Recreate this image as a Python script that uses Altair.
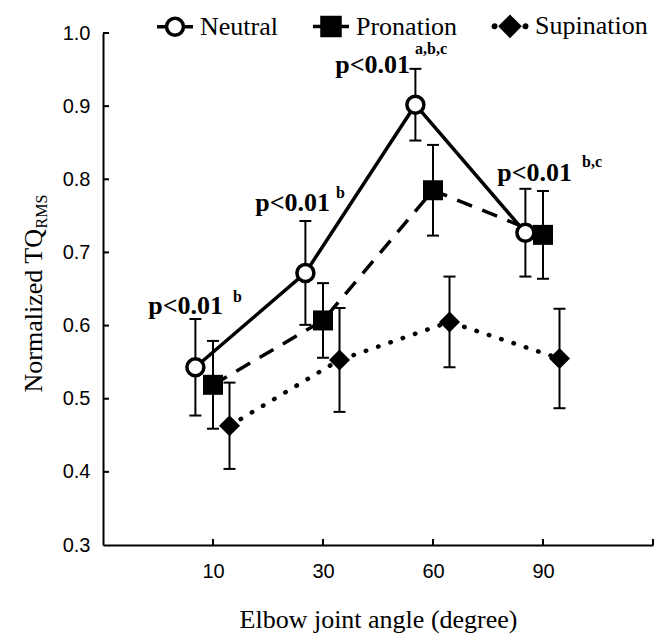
import altair as alt
import pandas as pd

# ---------------- data ----------------
ANGLES = ["10", "30", "60", "90"]
SERIES = ["Neutral", "Pronation", "Supination"]

NEUTRAL_MEAN = [0.543, 0.672, 0.902, 0.727]
NEUTRAL_SD = [0.066, 0.071, 0.049, 0.060]
PRONATION_MEAN = [0.519, 0.607, 0.785, 0.724]
PRONATION_SD = [0.060, 0.051, 0.062, 0.060]
SUPINATION_MEAN = [0.463, 0.553, 0.605, 0.555]
SUPINATION_SD = [0.059, 0.071, 0.062, 0.068]

Y_TICKS = [0.3, 0.4, 0.5, 0.6, 0.7, 0.8, 0.9, 1.0]
P_LABELS = ["p<0.01", "p<0.01", "p<0.01", "p<0.01"]
P_SUPS = ["b", "b", "a,b,c", "b,c"]

# ---------------- layout / style ----------------
SERIF = "Liberation Serif"
SANS = "Liberation Sans"
X_DOMAIN = [0, 5]
Y_DOMAIN = [0.3, 1.0]
X_TICK_POS = [1, 2, 3, 4, 5]          # inward tick marks (5 = axis end)
OFFSETS = {"Neutral": -0.16, "Pronation": 0.0, "Supination": 0.15}
MAIN_DX = [27.6, 24.6, -5.4, 46.6]
MAIN_DY = [-4.5, -10, 4, -8]
SUP_DX = [37.6, 30.6, -0.4, 56.6]
SUP_DY = [-16.5, -23, -15, -22]

means = {"Neutral": NEUTRAL_MEAN, "Pronation": PRONATION_MEAN, "Supination": SUPINATION_MEAN}
sds = {"Neutral": NEUTRAL_SD, "Pronation": PRONATION_SD, "Supination": SUPINATION_SD}

rows = []
for s in SERIES:
    for i, a in enumerate(ANGLES):
        rows.append({"series": s, "angle": a, "idx": i + 1,
                     "x": i + 1 + OFFSETS[s],
                     "mean": means[s][i], "sd": sds[s][i],
                     "lo": means[s][i] - sds[s][i], "hi": means[s][i] + sds[s][i]})
df = pd.DataFrame(rows)

ann_df = pd.DataFrame({
    "idx": [1, 2, 3, 4],
    "x": [i + 1 + OFFSETS["Neutral"] for i in range(4)],
    "top": [m + s for m, s in zip(NEUTRAL_MEAN, NEUTRAL_SD)],
    "main": P_LABELS,
    "sup": P_SUPS,
})

XS = alt.Scale(domain=X_DOMAIN, nice=False, zero=False)
YS = alt.Scale(domain=Y_DOMAIN, nice=False, zero=False)

label_expr = "[''," + ",".join("'%s'" % a for a in ANGLES) + ",''][datum.value]"

X_AXIS = alt.Axis(values=[1, 2, 3, 4], labelExpr=label_expr, ticks=False, tickSize=0,
                  grid=False, domainColor="black", domainWidth=2,
                  labelFont=SANS, labelFontSize=20, labelColor="black", labelPadding=16,
                  labelFlush=False, labelOverlap=False,
                  title="Elbow joint angle (degree)", titleFont=SERIF, titleFontSize=26,
                  titleFontWeight="normal", titleColor="black", titleX=275, titleY=82,
                  titleAlign="center", titleBaseline="alphabetic")

Y_AXIS = alt.Axis(values=Y_TICKS, format=".1f", ticks=False, tickSize=0, grid=False,
                  domainColor="black", domainWidth=2,
                  labelFont=SANS, labelFontSize=20, labelColor="black", labelPadding=13,
                  labelFlush=False, labelOverlap=False,
                  title="Normalized TQ", titleFont=SERIF, titleFontSize=26,
                  titleFontWeight="normal", titleColor="black", titleAngle=270,
                  titleAlign="left", titleBaseline="alphabetic", titleX=-62, titleY=359)


def xe(field):
    return alt.X(f"{field}:Q", scale=XS, axis=X_AXIS)


def ye(field):
    return alt.Y(f"{field}:Q", scale=YS, axis=Y_AXIS)


base = alt.Chart(df)
layers = []

# error bars
layers.append(base.mark_rule(color="black", strokeWidth=2).encode(x=xe("x"), y=ye("lo"), y2="hi:Q"))
for f in ["lo", "hi"]:
    layers.append(base.mark_tick(orient="horizontal", size=12, thickness=2, color="black",
                                 opacity=1).encode(x=xe("x"), y=ye(f)))

# lines
line_styles = {
    "Neutral": dict(strokeWidth=3.5),
    "Pronation": dict(strokeWidth=3.5, strokeDash=[16, 11]),
    "Supination": dict(strokeWidth=4.5, strokeDash=[0.5, 12.5], strokeCap="round"),
}
for s in SERIES:
    layers.append(base.transform_filter(alt.datum.series == s)
                  .mark_line(color="black", **line_styles[s])
                  .encode(x=xe("x"), y=ye("mean")))

# points
point_styles = {
    "Neutral": dict(shape="circle", size=289, filled=True, fill="white", stroke="black", strokeWidth=3.5),
    "Pronation": dict(shape="square", size=400, filled=True, color="black", strokeWidth=0),
    "Supination": dict(shape="diamond", size=441, filled=True, color="black", strokeWidth=0),
}
for s in SERIES:
    layers.append(base.transform_filter(alt.datum.series == s)
                  .mark_point(opacity=1, **point_styles[s])
                  .encode(x=xe("x"), y=ye("mean")))

# annotations
ann = alt.Chart(ann_df)
for i in range(4):
    a = ann.transform_filter(alt.datum.idx == i + 1)
    layers.append(a.mark_text(align="right", baseline="alphabetic", dx=MAIN_DX[i], dy=MAIN_DY[i],
                              font=SERIF, fontSize=26, fontWeight="bold", color="black")
                  .encode(x=xe("x"), y=ye("top"), text="main:N"))
    layers.append(a.mark_text(align="left", baseline="alphabetic", dx=SUP_DX[i], dy=SUP_DY[i],
                              font=SERIF, fontSize=16, fontWeight="bold", color="black")
                  .encode(x=xe("x"), y=ye("top"), text="sup:N"))

# inward axis ticks
layers.append(alt.Chart(pd.DataFrame({"t": X_TICK_POS}))
              .mark_tick(orient="vertical", size=6, thickness=2, yOffset=-3, color="black", opacity=1)
              .encode(x=xe("t"), y=alt.datum(Y_DOMAIN[0])))
layers.append(alt.Chart(pd.DataFrame({"t": Y_TICKS[1:]}))
              .mark_tick(orient="horizontal", size=6, thickness=2, xOffset=3, color="black", opacity=1)
              .encode(x=alt.datum(X_DOMAIN[0]), y=ye("t")))

main = alt.layer(*layers)

# legend (symbol paths: line stub + marker) and subscript axis title
NEUTRAL_PATH = "M-1,0L-0.47,0M0.47,0L1,0M0.47,0A0.47,0.47,0,1,1,-0.47,0A0.47,0.47,0,1,1,0.47,0Z"
PRONATION_PATH = "M-1,0L-0.5,0M0.5,0L1,0M-0.5,-0.5L0.5,-0.5L0.5,0.5L-0.5,0.5Z"
SUPINATION_PATH = ("M-0.93,0A0.07,0.07,0,1,1,-0.79,0A0.07,0.07,0,1,1,-0.93,0Z"
                   "M0.79,0A0.07,0.07,0,1,1,0.93,0A0.07,0.07,0,1,1,0.79,0Z"
                   "M0,-0.52L0.52,0L0,0.52L-0.52,0Z")

leg_props = dict(orient="none", legendX=52, legendY=-27, direction="horizontal", title=None,
                 labelFont=SERIF, labelFontSize=26, labelColor="black", labelOffset=5,
                 columnPadding=28, symbolSize=1296, symbolStrokeWidth=3.5,
                 symbolStrokeColor="black", symbolOpacity=1, padding=0, labelLimit=0)

RMS_AXIS = alt.Axis(orient="right", title="RMS", domain=False, ticks=False, labels=False, grid=False,
                    titleFont=SERIF, titleFontSize=16, titleFontWeight="normal", titleColor="black",
                    titleAngle=270, titleAlign="left", titleBaseline="alphabetic",
                    titleX=-607, titleY=195)

leg = (alt.Chart(df).transform_filter("false")
       .mark_point(strokeWidth=3.5, opacity=1, size=1296)
       .encode(
           y=alt.Y("mean:Q", scale=YS, axis=RMS_AXIS),
           shape=alt.Shape("series:N", scale=alt.Scale(domain=SERIES,
                           range=[NEUTRAL_PATH, PRONATION_PATH, SUPINATION_PATH]),
                           legend=alt.Legend(**leg_props)),
           fill=alt.Fill("series:N", scale=alt.Scale(domain=SERIES, range=["white", "black", "black"]),
                         legend=alt.Legend(**leg_props)),
           stroke=alt.Stroke("series:N", scale=alt.Scale(domain=SERIES, range=["black", "black", "black"]),
                             legend=alt.Legend(**leg_props)),
       ))

chart = (alt.layer(main, leg)
         .resolve_axis(y="independent")
         .properties(width=550, height=512,
                     padding={"left": 103, "top": 33, "right": 1, "bottom": 89},
                     autosize=alt.AutoSizeParams(type="none"))
         .configure_view(stroke=None)
         .configure_legend(labelFont=SERIF, labelFontSize=26, labelColor="black"))

chart.save("out.html", embed_options={"renderer": "svg", "actions": False})
